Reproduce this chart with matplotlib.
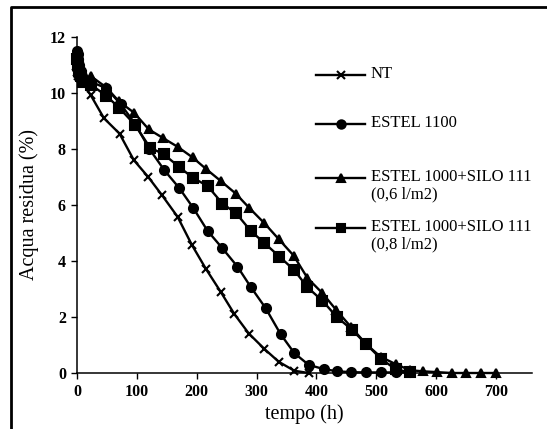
import matplotlib.pyplot as plt
from matplotlib.lines import Line2D

plt.rcParams['font.family'] = ['Liberation Serif', 'DejaVu Serif']

# tempo (h) e acqua residua (%) per ciascun trattamento
t_nt = [0, 2, 4, 6, 9, 23, 45, 71, 95, 119, 142, 168, 192, 215, 240, 263, 287, 313, 337, 363, 387]
v_nt = [10.9, 10.6, 10.8, 10.5, 10.4, 9.92, 9.1, 8.55, 7.6, 7.0, 6.35, 5.58, 4.57, 3.73, 2.9, 2.1, 1.41, 0.86, 0.4, 0.08, 0.0]

t_e1100 = [0, 1, 2, 4, 6, 9, 23, 49, 73, 97, 121, 146, 171, 194, 218, 243, 268, 290, 315, 340,
           363, 387, 412, 435, 458, 483, 507, 532, 556]
v_e1100 = [11.5, 11.4, 11.2, 11.0, 10.8, 10.6, 10.4, 10.17, 9.6, 8.9, 8.0, 7.24, 6.6, 5.9, 5.08, 4.45,
           3.8, 3.08, 2.32, 1.39, 0.71, 0.29, 0.14, 0.06, 0.03, 0.02, 0.02, 0.02, 0.02]

t_s06 = [0, 2, 4, 7, 10, 23, 49, 70, 95, 120, 143, 168, 193, 216, 240, 265, 288, 313, 337, 362,
         385, 410, 433, 457, 483, 507, 532, 556, 578, 602, 626, 650, 675, 700]
v_s06 = [11.0, 10.8, 10.7, 10.6, 10.5, 10.6, 10.2, 9.7, 9.3, 8.7, 8.4, 8.08, 7.7, 7.28, 6.86, 6.41,
         5.89, 5.35, 4.78, 4.19, 3.39, 2.85, 2.25, 1.66, 1.03, 0.58, 0.32, 0.1, 0.06, 0.03, 0.0,
         0.0, 0.0, 0.0]

t_s08 = [0, 2, 4, 7, 10, 23, 49, 70, 97, 122, 145, 170, 193, 218, 243, 266, 290, 313, 338, 363,
         385, 410, 434, 459, 483, 508, 532, 556]
v_s08 = [11.2, 11.0, 10.8, 10.6, 10.4, 10.3, 9.9, 9.48, 8.86, 8.05, 7.81, 7.37, 6.98, 6.68, 6.05,
         5.7, 5.08, 4.64, 4.16, 3.67, 3.06, 2.58, 2.0, 1.55, 1.03, 0.5, 0.14, 0.02]

serie = [
    (t_nt, v_nt, 'x', 6, 'NT'),
    (t_e1100, v_e1100, 'o', 6.5, 'ESTEL 1100'),
    (t_s06, v_s06, '^', 6, 'ESTEL 1000+SILO 111\n(0,6 l/m2)'),
    (t_s08, v_s08, 's', 6.5, 'ESTEL 1000+SILO 111\n(0,8 l/m2)'),
]

fig = plt.figure(figsize=(5.47, 4.29), dpi=100)
ax = fig.add_axes([77 / 547, 56 / 429, 455 / 547, 336 / 429])

for t, v, m, ms, lab in serie:
    ax.plot(t, v, color='black', lw=1.7, marker=m, ms=ms, mew=1.5,
            clip_on=False, zorder=3)

ax.set_xlim(0, 760)
ax.set_ylim(0, 12)
ax.set_xticks(range(0, 701, 100))
ax.set_yticks(range(0, 13, 2))
ax.spines['top'].set_visible(False)
ax.spines['right'].set_visible(False)
for s in ('left', 'bottom'):
    ax.spines[s].set_linewidth(1.1)
ax.tick_params(length=4, width=1, labelsize=11.5, pad=4)
for lbl in ax.get_xticklabels() + ax.get_yticklabels():
    lbl.set_fontweight('bold')
ax.set_xlabel('tempo (h)', fontsize=14.5, labelpad=3)
ax.set_ylabel('Acqua residua (%)', fontsize=14.5, labelpad=8)

# legenda disegnata a mano
righe_y = [75, 124, 178, 228]
for (t, v, m, ms, lab), yp in zip(serie, righe_y):
    yf = 1 - yp / 429
    fig.add_artist(Line2D([316 / 547, 365 / 547], [yf, yf], color='black', lw=1.7,
                          transform=fig.transFigure))
    fig.add_artist(Line2D([341 / 547], [yf], color='black', marker=m, ms=ms - 0.5, mew=1.5,
                          transform=fig.transFigure))
    fig.text(371 / 547, yf + 9 / 429, lab, fontsize=12, va='top', ha='left',
             linespacing=1.1, transform=fig.transFigure)

# cornice
fig.add_artist(Line2D([11 / 547, 11 / 547, 1], [0, 1 - 7 / 429, 1 - 7 / 429],
                      color='black', lw=2, transform=fig.transFigure))

fig.savefig('out.png', dpi=100)
